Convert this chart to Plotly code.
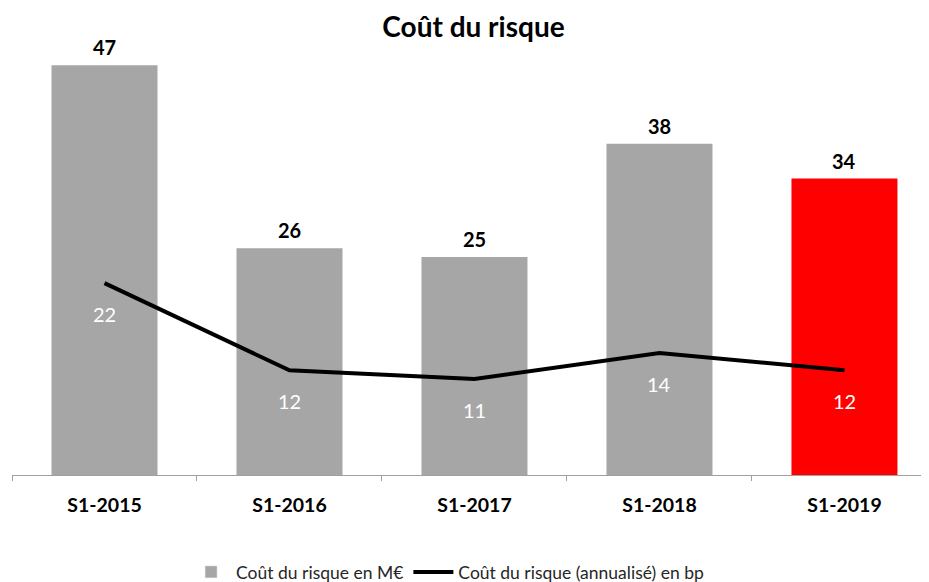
import plotly.graph_objects as go

categories = ["S1-2015", "S1-2016", "S1-2017", "S1-2018", "S1-2019"]
cout_meur = [47, 26, 25, 38, 34]
cout_bp = [22, 12, 11, 14, 12]
bar_colors = ["#A6A6A6", "#A6A6A6", "#A6A6A6", "#A6A6A6", "#FF0000"]

FONT = "Lato, 'Open Sans', sans-serif"

fig = go.Figure()
fig.add_trace(go.Bar(
    x=categories, y=cout_meur, name="Coût du risque en M€",
    marker=dict(color=bar_colors, line=dict(width=0)),
    width=0.573, showlegend=False,
))
# legend proxy for gray bar
fig.add_trace(go.Bar(
    x=[categories[0]], y=[None], name="Coût du risque en M€",
    marker=dict(color="#A6A6A6"), showlegend=True,
))
fig.add_trace(go.Scatter(
    x=categories, y=cout_bp, mode="lines", name="Coût du risque (annualisé) en bp",
    line=dict(color="black", width=4),
))

for c, v in zip(categories, cout_meur):
    fig.add_annotation(x=c, y=v, text=str(v), showarrow=False, yshift=18,
                       font=dict(family=FONT, size=20, color="black", weight="bold"))
for c, v in zip(categories, cout_bp):
    fig.add_annotation(x=c, y=v, text=str(v), showarrow=False, yshift=-31,
                       font=dict(family=FONT, size=20, color="white"))

# page body has an 8px default margin; figure sized/offset to compensate
fig.update_layout(
    width=921, height=574,
    margin=dict(l=4, r=0, t=31, b=107, autoexpand=False),
    paper_bgcolor="white", plot_bgcolor="white",
    title=dict(text="Coût du risque", x=0.5054, xanchor="center", y=0.967, yanchor="middle",
               font=dict(family=FONT, size=28, color="black", weight="bold")),
    barmode="overlay",
    showlegend=True,
    legend=dict(orientation="h", x=0.475, xanchor="center", y=-0.2225, yanchor="middle",
                font=dict(family=FONT, size=17.5, color="#262626"), traceorder="normal",
                itemwidth=40),
    xaxis=dict(range=[-0.5, 4.457], showline=True, linecolor="#A0A0A0", linewidth=1,
               ticks="outside", tickson="boundaries", ticklen=5, tickcolor="#A0A0A0",
               ticklabelstandoff=13,
               tickfont=dict(family=FONT, size=19.5, color="black", weight="bold"),
               showgrid=False, zeroline=False, automargin=False),
    yaxis=dict(range=[0, 50], visible=False, showgrid=False, zeroline=False),
)

fig.write_html("out.html")
